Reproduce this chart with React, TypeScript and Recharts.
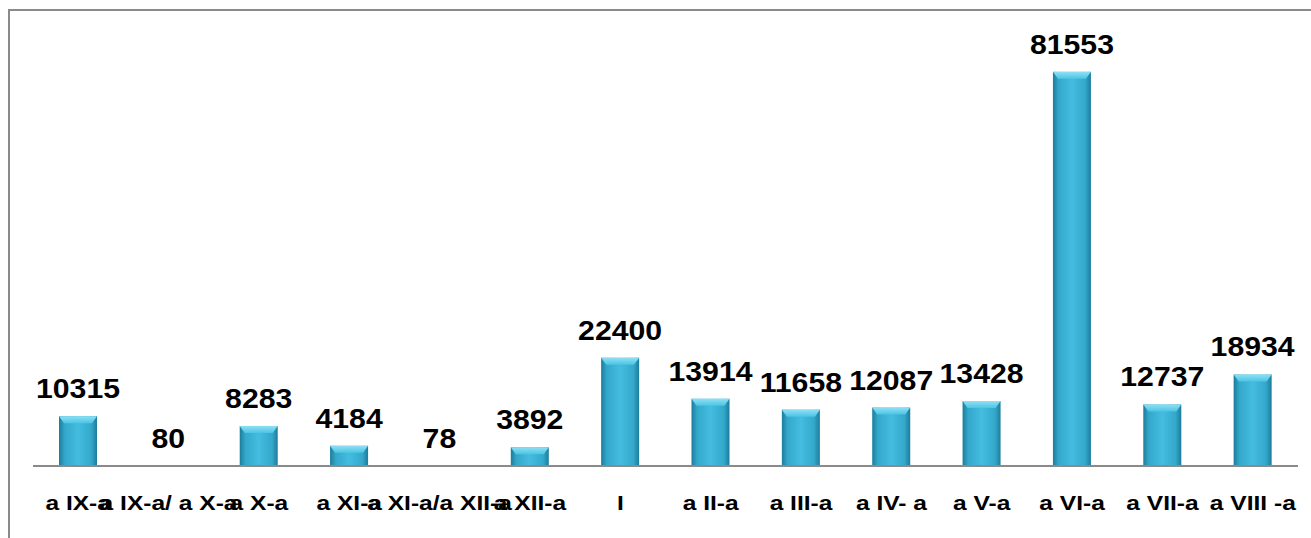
import React from "react";
import { BarChart, Bar, XAxis, YAxis, LabelList } from "recharts";

const categories = [
  "a IX-a",
  "a IX-a/ a X-a",
  "a X-a",
  "a XI-a",
  "a XI-a/a XII-a",
  "a XII-a",
  "I",
  "a II-a",
  "a III-a",
  "a IV- a",
  "a V-a",
  "a VI-a",
  "a VII-a",
  "a VIII -a",
];
const values = [10315, 80, 8283, 4184, 78, 3892, 22400, 13914, 11658, 12087, 13428, 81553, 12737, 18934];

const data = categories.map((name, i) => ({ name, value: values[i] }));

const FONT = "'Liberation Sans', Arial, sans-serif";

const BarShape = (props: any) => {
  const { x, y, width, height } = props;
  if (height <= 0) return null;
  const bev = Math.min(7, height / 2);
  return (
    <g>
      <rect x={x} y={y} width={width} height={height} fill="url(#barGrad)" />
      <path
        d={`M${x},${y} L${x + width},${y} L${x + width - 5},${y + bev} L${x + 5},${y + bev} Z`}
        fill="url(#topGrad)"
      />
    </g>
  );
};

const ValueLabel = (props: any) => {
  const { x, y, width, value } = props;
  const cx = x + width / 2;
  const cy = y - 18;
  return (
    <text
      transform={`translate(${cx},${cy}) scale(1.12,1)`}
      textAnchor="middle"
      fontFamily={FONT}
      fontWeight="bold"
      fontSize={27}
      fill="#000"
    >
      {value}
    </text>
  );
};

const Tick = (props: any) => {
  const { x, y, payload } = props;
  return (
    <text
      transform={`translate(${x},${y + 36}) scale(1.17,1)`}
      textAnchor="middle"
      fontFamily={FONT}
      fontWeight="bold"
      fontSize={21}
      fill="#000"
    >
      {payload.value}
    </text>
  );
};

export default function App() {
  return (
    <div style={{ position: "absolute", left: 0, top: 0, width: 1311, height: 538, background: "#fff", overflow: "hidden" }}>
      <div
        style={{
          position: "absolute",
          left: 8,
          top: 9,
          width: 1400,
          height: 600,
          borderTop: "2px solid #8a8a8a",
          borderLeft: "2px solid #8a8a8a",
        }}
      />
      <div style={{ position: "absolute", left: 0, top: 0 }}>
        <BarChart
          width={1311}
          height={538}
          data={data}
          margin={{ top: 31, right: 13, bottom: 0, left: 33 }}
          barCategoryGap={0}
        >
          <defs>
            <linearGradient id="barGrad" x1="0" y1="0" x2="1" y2="0">
              <stop offset="0%" stopColor="#1d7c9b" />
              <stop offset="15%" stopColor="#33a8cb" />
              <stop offset="50%" stopColor="#44bde0" />
              <stop offset="85%" stopColor="#33a8cb" />
              <stop offset="100%" stopColor="#1d7c9b" />
            </linearGradient>
            <linearGradient id="topGrad" x1="0" y1="0" x2="0" y2="1">
              <stop offset="0%" stopColor="#8fe0f4" />
              <stop offset="100%" stopColor="#4cc4e4" />
            </linearGradient>
          </defs>
          <XAxis
            dataKey="name"
            interval={0}
            height={72}
            tickLine={false}
            axisLine={{ stroke: "#8a8a8a", strokeWidth: 2 }}
            tick={<Tick />}
          />
          <YAxis hide domain={[0, 90000]} width={0} />
          <Bar dataKey="value" barSize={38} shape={<BarShape />} isAnimationActive={false}>
            <LabelList dataKey="value" content={<ValueLabel />} />
          </Bar>
        </BarChart>
      </div>
    </div>
  );
}
